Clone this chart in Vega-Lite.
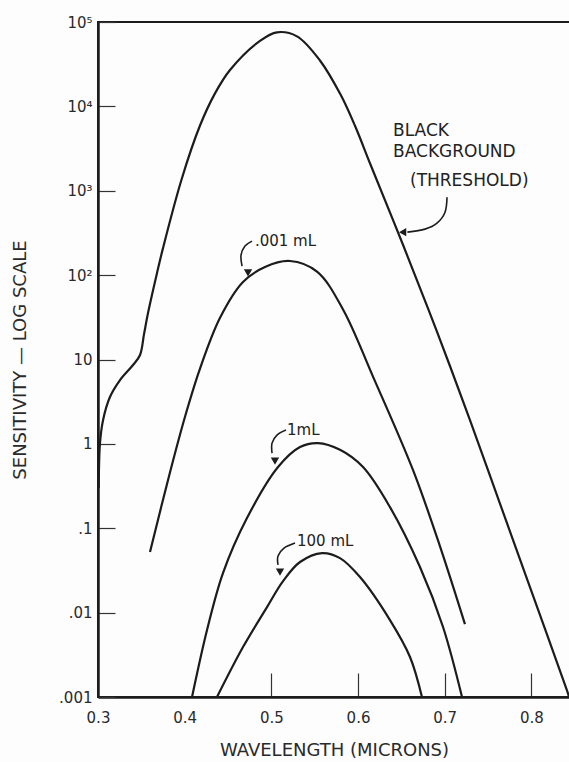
{
  "$schema": "https://vega.github.io/schema/vega-lite/v6.json",
  "width": 472,
  "height": 675,
  "autosize": {"type": "none"},
  "padding": {"left": 98, "top": 22, "right": 0, "bottom": 65},
  "background": "#fdfdfd",
  "config": {"view": {"stroke": "#1c1c1c", "strokeWidth": 2}, "font": "DejaVu Sans"},
  "datasets": {
    "curves": [
      {"series": "black", "x": 0.3008, "y": 0.3},
      {"series": "black", "x": 0.3023, "y": 1.02},
      {"series": "black", "x": 0.3058, "y": 1.91},
      {"series": "black", "x": 0.3138, "y": 3.59},
      {"series": "black", "x": 0.3254, "y": 5.7},
      {"series": "black", "x": 0.3404, "y": 8.6},
      {"series": "black", "x": 0.3485, "y": 11.3},
      {"series": "black", "x": 0.3531, "y": 20},
      {"series": "black", "x": 0.3577, "y": 35.5},
      {"series": "black", "x": 0.3681, "y": 106},
      {"series": "black", "x": 0.375, "y": 209},
      {"series": "black", "x": 0.3965, "y": 1370},
      {"series": "black", "x": 0.4177, "y": 5930},
      {"series": "black", "x": 0.435, "y": 14260},
      {"series": "black", "x": 0.4523, "y": 27000},
      {"series": "black", "x": 0.4869, "y": 59800},
      {"series": "black", "x": 0.5065, "y": 75500},
      {"series": "black", "x": 0.5296, "y": 67600},
      {"series": "black", "x": 0.5561, "y": 35000},
      {"series": "black", "x": 0.58, "y": 13700},
      {"series": "black", "x": 0.5965, "y": 5890},
      {"series": "black", "x": 0.6138, "y": 2120},
      {"series": "black", "x": 0.6519, "y": 229},
      {"series": "black", "x": 0.6911, "y": 21.4},
      {"series": "black", "x": 0.7292, "y": 1.91},
      {"series": "black", "x": 0.7638, "y": 0.196},
      {"series": "black", "x": 0.7984, "y": 0.02},
      {"series": "black", "x": 0.8411, "y": 0.0012},
      {"series": "black", "x": 0.8435, "y": 0.001},
      {"series": "0.001 mL", "x": 0.36, "y": 0.0522},
      {"series": "0.001 mL", "x": 0.3831, "y": 0.462},
      {"series": "0.001 mL", "x": 0.4004, "y": 2.1},
      {"series": "0.001 mL", "x": 0.4177, "y": 7.8},
      {"series": "0.001 mL", "x": 0.4408, "y": 31.2},
      {"series": "0.001 mL", "x": 0.4673, "y": 82.8},
      {"series": "0.001 mL", "x": 0.4927, "y": 125},
      {"series": "0.001 mL", "x": 0.5215, "y": 147},
      {"series": "0.001 mL", "x": 0.5527, "y": 110},
      {"series": "0.001 mL", "x": 0.5827, "y": 39.2},
      {"series": "0.001 mL", "x": 0.6173, "y": 6.27},
      {"series": "0.001 mL", "x": 0.6634, "y": 0.491},
      {"series": "0.001 mL", "x": 0.6946, "y": 0.0611},
      {"series": "0.001 mL", "x": 0.7234, "y": 0.00731},
      {"series": "1 mL", "x": 0.4085, "y": 0.001},
      {"series": "1 mL", "x": 0.4258, "y": 0.00622},
      {"series": "1 mL", "x": 0.4442, "y": 0.0294},
      {"series": "1 mL", "x": 0.4719, "y": 0.132},
      {"series": "1 mL", "x": 0.5077, "y": 0.531},
      {"series": "1 mL", "x": 0.5331, "y": 0.916},
      {"series": "1 mL", "x": 0.5538, "y": 1.02},
      {"series": "1 mL", "x": 0.5792, "y": 0.85},
      {"series": "1 mL", "x": 0.6058, "y": 0.531},
      {"series": "1 mL", "x": 0.6369, "y": 0.178},
      {"series": "1 mL", "x": 0.6715, "y": 0.0347},
      {"series": "1 mL", "x": 0.6981, "y": 0.00675},
      {"series": "1 mL", "x": 0.72, "y": 0.001},
      {"series": "100 mL", "x": 0.4373, "y": 0.001},
      {"series": "100 mL", "x": 0.4673, "y": 0.00391},
      {"series": "100 mL", "x": 0.495, "y": 0.01164},
      {"series": "100 mL", "x": 0.5135, "y": 0.02366},
      {"series": "100 mL", "x": 0.5331, "y": 0.0398},
      {"series": "100 mL", "x": 0.5585, "y": 0.0508},
      {"series": "100 mL", "x": 0.5792, "y": 0.0443},
      {"series": "100 mL", "x": 0.6023, "y": 0.0264},
      {"series": "100 mL", "x": 0.6369, "y": 0.00816},
      {"series": "100 mL", "x": 0.66, "y": 0.00298},
      {"series": "100 mL", "x": 0.6738, "y": 0.001}
    ],
    "arrows": [
      {"arrow": "b", "i": 0, "x": 0.7027, "y": 839},
      {"arrow": "b", "i": 1, "x": 0.7004, "y": 557},
      {"arrow": "b", "i": 2, "x": 0.6911, "y": 413},
      {"arrow": "b", "i": 3, "x": 0.6773, "y": 351},
      {"arrow": "b", "i": 4, "x": 0.657, "y": 323},
      {"arrow": "a", "i": 0, "x": 0.4777, "y": 253},
      {"arrow": "a", "i": 1, "x": 0.4696, "y": 221},
      {"arrow": "a", "i": 2, "x": 0.465, "y": 173},
      {"arrow": "a", "i": 3, "x": 0.4662, "y": 128},
      {"arrow": "c", "i": 0, "x": 0.5169, "y": 1.457},
      {"arrow": "c", "i": 1, "x": 0.5065, "y": 1.27},
      {"arrow": "c", "i": 2, "x": 0.5008, "y": 1.02},
      {"arrow": "c", "i": 3, "x": 0.5008, "y": 0.778},
      {"arrow": "d", "i": 0, "x": 0.5273, "y": 0.0668},
      {"arrow": "d", "i": 1, "x": 0.5146, "y": 0.0582},
      {"arrow": "d", "i": 2, "x": 0.5077, "y": 0.0469},
      {"arrow": "d", "i": 3, "x": 0.5077, "y": 0.0367}
    ],
    "tips": [
      {"dir": "left", "x": 0.6515, "y": 323},
      {"dir": "down", "x": 0.4731, "y": 106},
      {"dir": "down", "x": 0.5042, "y": 0.625},
      {"dir": "down", "x": 0.51, "y": 0.0303}
    ],
    "labels": [
      {"text": "BLACK", "x": 0.6404, "y": 5080, "kind": "big"},
      {"text": "BACKGROUND", "x": 0.6404, "y": 2870, "kind": "big"},
      {"text": "(THRESHOLD)", "x": 0.66, "y": 1300, "kind": "big"},
      {"text": ".001 mL", "x": 0.4811, "y": 253, "kind": "small"},
      {"text": "1mL", "x": 0.5181, "y": 1.46, "kind": "small"},
      {"text": "100 mL", "x": 0.5296, "y": 0.0705, "kind": "small"}
    ]
  },
  "encoding": {
    "x": {
      "field": "x",
      "type": "quantitative",
      "scale": {"domain": [0.3, 0.8446], "nice": false, "zero": false},
      "axis": {
        "values": [0.3, 0.4, 0.5, 0.6, 0.7, 0.8],
        "format": ".1f",
        "title": "WAVELENGTH (MICRONS)",
        "grid": false,
        "domainColor": "#1c1c1c",
        "domainWidth": 2.5,
        "tickColor": "#333333",
        "tickWidth": 1.2,
        "tickSize": -24,
        "tickOpacity": {"condition": {"test": "datum.value < 0.45", "value": 0}, "value": 1},
        "labelPadding": 37,
        "labelFontSize": 15,
        "labelColor": "#2a2a2a",
        "labelFlush": false,
        "labelOverlap": false,
        "titleFontSize": 18,
        "titleFontWeight": "normal",
        "titleColor": "#2a2a2a",
        "titlePadding": 16
      }
    },
    "y": {
      "field": "y",
      "type": "quantitative",
      "scale": {"type": "log", "domain": [0.001, 100000], "nice": false},
      "axis": {
        "values": [0.001, 0.01, 0.1, 1, 10, 100, 1000, 10000, 100000],
        "labelExpr": "datum.value >= 99999 ? '10⁵' : datum.value >= 9999 ? '10⁴' : datum.value >= 999 ? '10³' : datum.value >= 99 ? '10²' : datum.value >= 9 ? '10' : datum.value >= 0.9 ? '1' : datum.value >= 0.09 ? '.1' : datum.value >= 0.009 ? '.01' : '.001'",
        "title": "SENSITIVITY — LOG SCALE",
        "grid": false,
        "domainColor": "#1c1c1c",
        "domainWidth": 2.5,
        "tickColor": "#333333",
        "tickWidth": 1.2,
        "tickSize": -17,
        "labelPadding": 23,
        "labelFontSize": 15,
        "labelColor": "#2a2a2a",
        "labelOverlap": false,
        "titleFontSize": 18,
        "titleFontWeight": "normal",
        "titleColor": "#2a2a2a",
        "titlePadding": 29
      }
    }
  },
  "layer": [
    {
      "data": {"name": "curves"},
      "mark": {"type": "line", "interpolate": "catmull-rom", "color": "#1c1c1c", "strokeWidth": 2.2, "clip": true},
      "encoding": {"detail": {"field": "series"}}
    },
    {
      "data": {"name": "arrows"},
      "mark": {"type": "line", "interpolate": "cardinal", "color": "#1c1c1c", "strokeWidth": 1.6},
      "encoding": {"detail": {"field": "arrow"}, "order": {"field": "i", "type": "quantitative"}}
    },
    {
      "data": {"name": "tips"},
      "mark": {"type": "point", "filled": true, "color": "#1c1c1c", "size": 70, "opacity": 1},
      "encoding": {
        "shape": {"field": "dir", "type": "nominal", "scale": {"domain": ["left", "down"], "range": ["triangle-left", "triangle-down"]}, "legend": null}
      }
    },
    {
      "data": {"name": "labels"},
      "mark": {"type": "text", "align": "left", "baseline": "middle", "color": "#222222"},
      "encoding": {
        "text": {"field": "text"},
        "size": {"field": "kind", "type": "nominal", "scale": {"domain": ["big", "small"], "range": [17, 15]}, "legend": null}
      }
    }
  ]
}
